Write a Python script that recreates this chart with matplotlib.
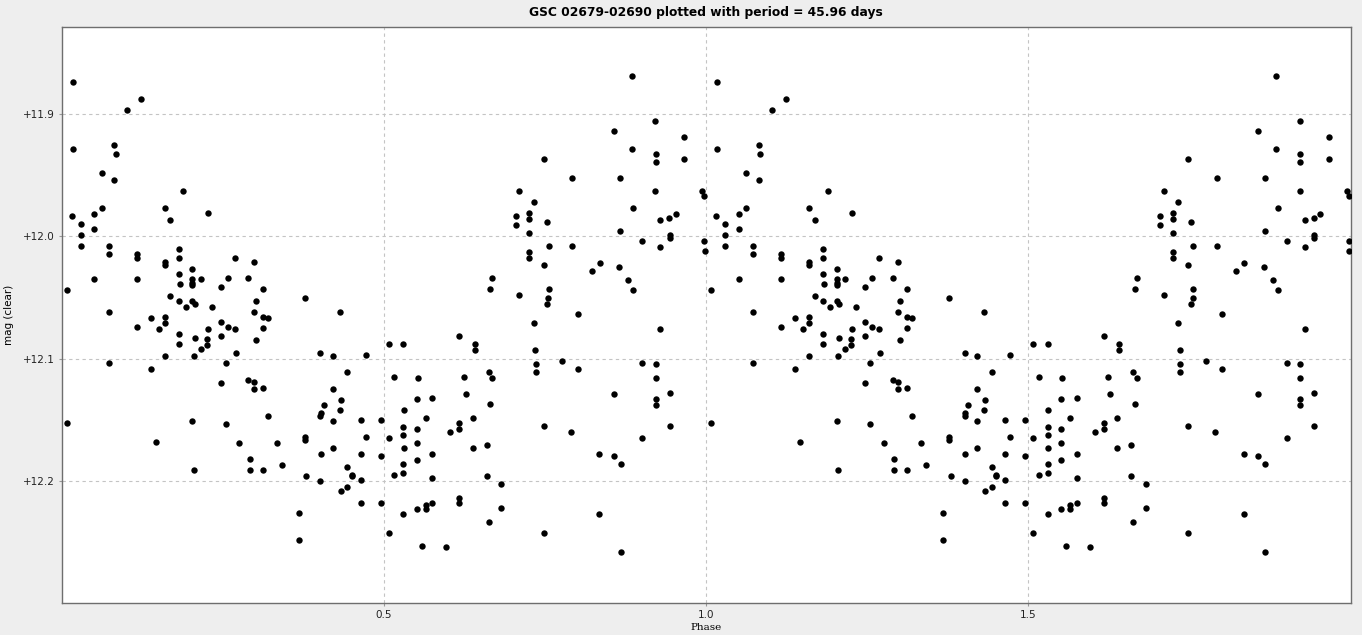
"""
Phase plot of GSC 02679-02690 folded at P = 45.96 d, shown over two cycles.
"""
import matplotlib

matplotlib.use("Agg")
import matplotlib.pyplot as plt
import numpy as np
from matplotlib.ticker import FuncFormatter

TITLE = "GSC 02679-02690 plotted with period = 45.96 days"

# phase in [0, 1) and magnitude (second cycle = phase + 1)
phase = [
    0.017, 0.124, 0.102, 0.082, 0.084, 0.017, 0.062, 0.082, 0.189, 0.160,
    0.169, 0.227, 0.062, 0.051, 0.016, 0.030, 0.051, 0.030, 0.030, 0.073,
    0.073, 0.117, 0.117, 0.182, 0.182, 0.160, 0.160, 0.203, 0.182, 0.183,
    0.203, 0.203, 0.203, 0.216, 0.247, 0.051, 0.117, 0.008, 0.169, 0.182,
    0.193, 0.203, 0.207, 0.233, 0.073, 0.138, 0.160, 0.160, 0.117, 0.151,
    0.227, 0.247, 0.182, 0.182, 0.207, 0.216, 0.225, 0.225, 0.247, 0.160,
    0.205, 0.073, 0.138, 0.247, 0.008, 0.203, 0.146, 0.205, 0.269, 0.298,
    0.258, 0.290, 0.312, 0.301, 0.377, 0.432, 0.298, 0.312, 0.320, 0.258,
    0.269, 0.312, 0.301, 0.270, 0.255, 0.401, 0.421, 0.472, 0.443, 0.290,
    0.298, 0.298, 0.312, 0.421, 0.433, 0.407, 0.402, 0.401, 0.432, 0.421,
    0.464, 0.495, 0.320, 0.255, 0.377, 0.377, 0.472, 0.276, 0.334, 0.421,
    0.402, 0.464, 0.495, 0.292, 0.342, 0.292, 0.312, 0.443, 0.450, 0.450,
    0.380, 0.401, 0.464, 0.443, 0.433, 0.464, 0.495, 0.368, 0.368, 0.748,
    0.710, 0.733, 0.705, 0.705, 0.725, 0.725, 0.753, 0.725, 0.756, 0.725,
    0.725, 0.748, 0.668, 0.665, 0.710, 0.756, 0.755, 0.753, 0.733, 0.617,
    0.508, 0.530, 0.641, 0.641, 0.735, 0.736, 0.736, 0.663, 0.668, 0.516,
    0.553, 0.624, 0.627, 0.551, 0.575, 0.665, 0.531, 0.565, 0.638, 0.617,
    0.617, 0.603, 0.530, 0.551, 0.530, 0.508, 0.531, 0.551, 0.575, 0.638,
    0.660, 0.748, 0.530, 0.551, 0.516, 0.530, 0.575, 0.660, 0.682, 0.617,
    0.617, 0.565, 0.575, 0.551, 0.565, 0.530, 0.682, 0.663, 0.508, 0.748,
    0.559, 0.596, 0.885, 0.921, 0.857, 0.966, 0.885, 0.922, 0.922, 0.966,
    0.792, 0.867, 0.921, 0.994, 0.997, 0.887, 0.929, 0.943, 0.953, 0.867,
    0.901, 0.944, 0.944, 0.929, 0.997, 0.998, 0.792, 0.835, 0.823, 0.865,
    0.879, 0.887, 0.801, 0.929, 0.776, 0.801, 0.901, 0.922, 0.922, 0.857,
    0.944, 0.922, 0.922, 0.790, 0.944, 0.901, 0.834, 0.857, 0.868, 0.834,
    0.868,
]
mag = [
    11.874, 11.888, 11.897, 11.925, 11.933, 11.929, 11.948, 11.954, 11.963, 11.977,
    11.987, 11.981, 11.977, 11.982, 11.983, 11.990, 11.994, 11.999, 12.008, 12.008,
    12.014, 12.014, 12.018, 12.010, 12.018, 12.021, 12.023, 12.027, 12.031, 12.039,
    12.035, 12.038, 12.040, 12.035, 12.041, 12.035, 12.035, 12.044, 12.049, 12.053,
    12.058, 12.053, 12.055, 12.058, 12.062, 12.067, 12.066, 12.071, 12.074, 12.076,
    12.076, 12.070, 12.080, 12.088, 12.083, 12.092, 12.084, 12.089, 12.081, 12.098,
    12.098, 12.103, 12.108, 12.120, 12.152, 12.151, 12.168, 12.191, 12.018, 12.021,
    12.034, 12.034, 12.043, 12.053, 12.050, 12.062, 12.062, 12.066, 12.067, 12.074,
    12.076, 12.075, 12.085, 12.095, 12.103, 12.095, 12.098, 12.097, 12.111, 12.117,
    12.119, 12.125, 12.124, 12.125, 12.134, 12.138, 12.144, 12.147, 12.142, 12.151,
    12.150, 12.150, 12.147, 12.153, 12.164, 12.166, 12.164, 12.169, 12.169, 12.173,
    12.178, 12.178, 12.179, 12.182, 12.187, 12.191, 12.191, 12.188, 12.195, 12.196,
    12.196, 12.200, 12.199, 12.205, 12.208, 12.218, 12.218, 12.226, 12.248, 11.937,
    11.963, 11.972, 11.983, 11.991, 11.981, 11.986, 11.988, 11.997, 12.008, 12.013,
    12.018, 12.023, 12.034, 12.043, 12.048, 12.043, 12.050, 12.055, 12.071, 12.081,
    12.088, 12.088, 12.088, 12.093, 12.093, 12.104, 12.111, 12.111, 12.116, 12.115,
    12.116, 12.115, 12.129, 12.133, 12.132, 12.137, 12.142, 12.148, 12.148, 12.152,
    12.157, 12.160, 12.156, 12.157, 12.162, 12.165, 12.173, 12.169, 12.178, 12.173,
    12.170, 12.155, 12.186, 12.183, 12.195, 12.193, 12.197, 12.196, 12.202, 12.214,
    12.218, 12.219, 12.218, 12.223, 12.223, 12.227, 12.222, 12.233, 12.242, 12.242,
    12.253, 12.254, 11.869, 11.906, 11.914, 11.919, 11.929, 11.933, 11.939, 11.937,
    11.952, 11.952, 11.963, 11.963, 11.967, 11.977, 11.987, 11.985, 11.982, 11.996,
    12.004, 11.999, 12.001, 12.009, 12.004, 12.012, 12.008, 12.022, 12.028, 12.025,
    12.036, 12.044, 12.063, 12.076, 12.102, 12.108, 12.103, 12.104, 12.116, 12.129,
    12.128, 12.133, 12.138, 12.160, 12.155, 12.165, 12.178, 12.179, 12.186, 12.227,
    12.258,
]

x_ticks = [0.5, 1.0, 1.5]
y_ticks = [11.9, 12.0, 12.1, 12.2]

BG = "#eeeeee"
GRID = "#c4c4c4"


def main():
    ph = np.array(phase)
    m = np.array(mag)

    fig = plt.figure(figsize=(13.62, 6.35), dpi=100, facecolor=BG)
    ax = fig.add_axes([0.0452, 0.0504, 0.9464, 0.9071])
    ax.set_facecolor("white")

    # two cycles: phase and phase + 1
    ax.plot(np.concatenate([ph, ph + 1]), np.concatenate([m, m]),
            "o", color="black", ms=4.6, mec="black", mew=0, zorder=3)

    ax.set_xlim(0, 2)
    ax.set_ylim(12.2994, 11.829)
    ax.set_xticks(x_ticks)
    ax.set_yticks(y_ticks)
    ax.xaxis.set_major_formatter(FuncFormatter(lambda v, p: f"{v:.1f}"))
    ax.yaxis.set_major_formatter(FuncFormatter(lambda v, p: f"+{v:.1f}"))
    ax.tick_params(axis="both", length=2, width=0.8, color="#999999",
                   labelsize=7.5, labelcolor="#222222", pad=3)

    ax.grid(True, color=GRID, ls=(0, (3, 3)), lw=0.8, zorder=0)
    for s in ax.spines.values():
        s.set_color("#6e6e6e")
        s.set_linewidth(1.0)

    ax.set_xlabel("Phase", fontsize=7.5, family="DejaVu Serif", labelpad=2)
    ax.set_ylabel("mag (clear)", fontsize=7.5, labelpad=6)
    ax.set_title(TITLE, fontsize=8.8, fontweight="bold", pad=8)

    fig.savefig("out.png", dpi=100, facecolor=BG)


if __name__ == "__main__":
    main()
